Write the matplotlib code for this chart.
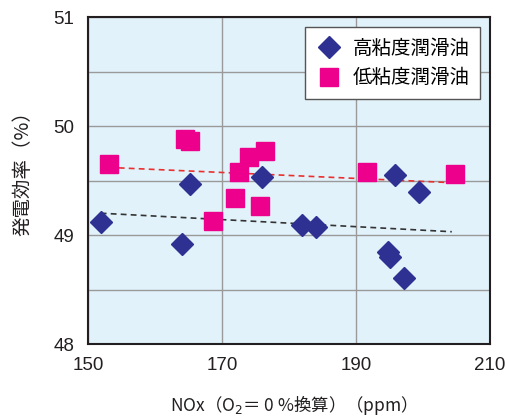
import numpy as np
import matplotlib
matplotlib.use("Agg")
import matplotlib.pyplot as plt
from matplotlib.ticker import MultipleLocator

plt.rcParams['font.family'] = ['Noto Sans CJK JP', 'DejaVu Sans']

# Data
high_x = [151.9, 164.0, 165.2, 176.0, 182.0, 184.0, 194.8, 195.1, 197.1, 195.8, 199.4]
high_y = [49.12, 48.92, 49.47, 49.53, 49.09, 49.07, 48.84, 48.80, 48.61, 49.55, 49.39]
low_x = [153.1, 164.5, 165.2, 168.6, 171.9, 172.5, 174.0, 176.4, 175.6, 191.6, 204.8]
low_y = [49.65, 49.88, 49.86, 49.13, 49.34, 49.58, 49.72, 49.77, 49.27, 49.58, 49.56]
# Trend line endpoints
high_trend_x = [151.9, 204.3]
high_trend_y = [49.20, 49.03]
low_trend_x = [153.1, 204.3]
low_trend_y = [49.62, 49.48]

series_labels = ['高粘度潤滑油', '低粘度潤滑油']
x_ticks = [150, 170, 190, 210]
y_ticks = [48, 49, 50, 51]

fig = plt.figure(figsize=(5.06, 4.19), dpi=100)
ax = fig.add_axes([88/506, 1-344/419, (490-88)/506, (344-17)/419])
ax.set_facecolor('#E1F2FA')

ax.plot(high_trend_x, high_trend_y, color='#333333', lw=1.2, ls=(0, (3.5, 2.5)), zorder=2)
ax.plot(low_trend_x, low_trend_y, color='#E8312F', lw=1.2, ls=(0, (3.5, 2.5)), zorder=2)

ax.plot(high_x, high_y, ls='none', marker='D', ms=11.5, color='#2E3192', zorder=3, label=series_labels[0])
ax.plot(low_x, low_y, ls='none', marker='s', ms=13, color='#EC008C', zorder=3, label=series_labels[1])

ax.set_xlim(150, 210)
ax.set_ylim(48, 51)
ax.set_xticks(x_ticks)
ax.set_yticks(y_ticks)
ax.yaxis.set_minor_locator(MultipleLocator(0.5))
ax.grid(True, which='both', color='#9A9A9A', lw=1.0)
ax.set_axisbelow(True)
ax.tick_params(which='both', length=0)
ax.tick_params(axis='x', pad=9, labelsize=13.5, labelcolor='#231F20')
ax.tick_params(axis='y', pad=10, labelsize=13.5, labelcolor='#231F20')
for lab in ax.get_xticklabels() + ax.get_yticklabels():
    lab.set_family(['Liberation Sans Narrow', 'DejaVu Sans Condensed', 'Liberation Sans'])
for s in ax.spines.values():
    s.set_color('#231F20')
    s.set_linewidth(1.5)

ax.set_ylabel('発電効率（%）', fontsize=14, color='#231F20')
ax.yaxis.set_label_coords(-0.137, 0.535)
ax.set_xlabel('NOx（O$_2$＝ 0 %換算）（ppm）', fontsize=12.5, color='#231F20', labelpad=14)

leg = ax.legend(loc='upper right', bbox_to_anchor=((480-88)/402, (344-27)/327), fontsize=14,
                frameon=True, fancybox=False, edgecolor='#555555', framealpha=1,
                handletextpad=0.5, borderpad=0.55, labelspacing=0.45, handlelength=1.4,
                borderaxespad=0)
leg.get_frame().set_linewidth(1.0)

fig.savefig('out.png', dpi=100)
